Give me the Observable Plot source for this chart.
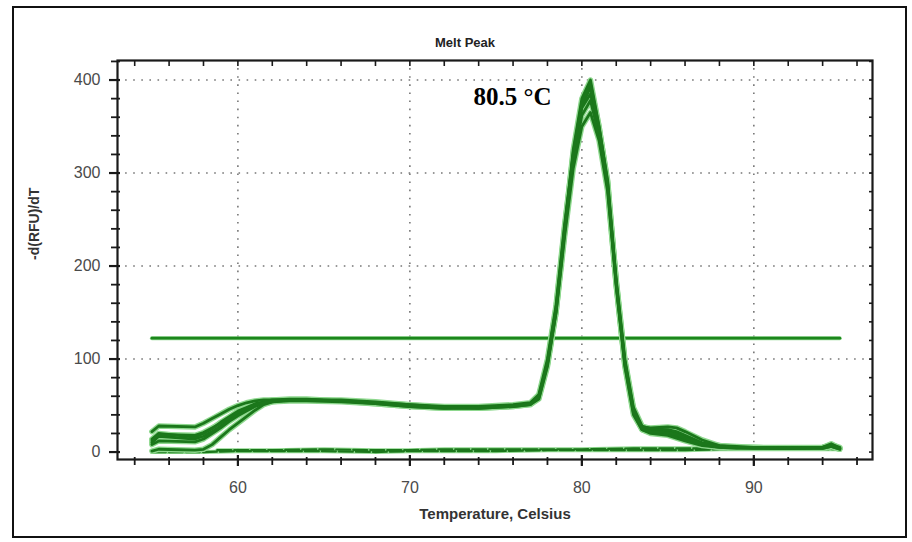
<!DOCTYPE html>
<html>
<head>
<meta charset="utf-8">
<script src="https://cdn.jsdelivr.net/npm/d3@7"></script>
<script src="https://cdn.jsdelivr.net/npm/@observablehq/plot@0.6"></script>
<style>
  html, body { margin: 0; padding: 0; background: #fff; }
  #wrap { position: relative; width: 912px; height: 542px; overflow: hidden; }
  #border { position: absolute; left: 12px; top: 6px; width: 891px; height: 528px; border: 2.5px solid #111; pointer-events: none; }
  #chart { position: absolute; left: 0; top: 0; }
</style>
</head>
<body>
<div id="wrap"><div id="chart"></div><div id="border"></div></div>
<script>
// ---- data ----
const temps = [55, 55.4, 57.5, 58, 58.5, 59, 59.5, 60, 60.5, 61, 61.5, 62, 63, 64, 66, 68, 70, 72, 74, 76, 77, 77.5, 78, 78.5, 79, 79.5, 80, 80.5, 81, 81.5, 82, 82.5, 83, 83.5, 84, 85, 85.5, 86, 87, 88, 89, 90, 92, 94, 94.5, 95];

const rep1 = [10, 17, 14, 17, 22, 28, 35, 41, 46, 50, 53, 55, 56, 56, 55, 53, 50, 48, 48, 50, 52, 60, 95, 150, 240, 325, 380, 400, 350, 290, 180, 95, 45, 26, 23, 22, 20, 16, 9, 6, 5, 5, 4, 5, 7, 4];
const rep2 = [14, 20, 16, 20, 25, 32, 38, 44, 48, 52, 54, 56, 57, 57, 55, 53, 51, 49, 49, 51, 53, 62, 100, 158, 245, 320, 370, 385, 345, 285, 185, 100, 48, 28, 25, 24, 22, 18, 10, 7, 6, 5, 5, 5, 8, 5];
const rep3 = [8, 12, 11, 14, 20, 26, 33, 39, 44, 49, 52, 54, 55, 55, 54, 52, 49, 47, 47, 49, 51, 57, 92, 150, 232, 305, 350, 365, 335, 280, 180, 92, 40, 24, 21, 19, 17, 13, 8, 5, 5, 4, 4, 4, 6, 3];
const rep4 = [22, 28, 27, 31, 36, 41, 46, 50, 53, 55, 56, 56, 56, 56, 55, 53, 50, 48, 48, 50, 52, 60, 97, 155, 242, 318, 372, 392, 348, 292, 183, 98, 46, 27, 26, 27, 26, 22, 13, 7, 5, 5, 4, 5, 9, 4];
const rep5 = [1, 3, 2, 3, 8, 16, 24, 31, 38, 45, 51, 54, 56, 56, 55, 52, 49, 47, 48, 50, 52, 58, 94, 152, 236, 312, 362, 378, 340, 284, 178, 94, 42, 24, 20, 18, 15, 12, 7, 5, 4, 4, 4, 4, 6, 3];
const rep6 = [12, 19, 18, 21, 26, 31, 37, 43, 47, 51, 53, 55, 56, 56, 56, 54, 51, 48, 47, 49, 51, 59, 96, 155, 238, 322, 376, 396, 350, 288, 182, 97, 44, 25, 22, 21, 19, 15, 9, 6, 5, 5, 4, 5, 7, 4];

const ntcTemps = [55, 58, 60, 62, 65, 68, 70, 72, 75, 78, 80, 83, 86, 88, 90, 93, 95];
const ntc1 = [0, 0, 1, 1, 1, 0, 1, 1, 1, 2, 2, 2, 2, 3, 3, 3, 3];
const ntc2Temps = [58.8, 60, 62, 65, 68, 70, 72, 75, 78, 80, 83, 86, 88, 90, 93, 95];
const ntc2 = [2, 2, 2, 3, 2, 2, 3, 3, 3, 3, 4, 4, 4, 4, 4, 4];

const threshold = 122.5;
const thresholdRange = [55, 95];

const peaks = [{t: 80.5, v: 400, label: "80.5 °C"}];

const xMajor = [60, 70, 80, 90];
const xMinor = [54, 56, 58, 60, 62, 64, 66, 68, 70, 72, 74, 76, 78, 80, 82, 84, 86, 88, 90, 92, 94, 96];
const yMajor = [0, 100, 200, 300, 400];
const yMinor = [0, 20, 40, 60, 80, 100, 120, 140, 160, 180, 200, 220, 240, 260, 280, 300, 320, 340, 360, 380, 400, 420];

const title = "Melt Peak";
const xLabel = "Temperature, Celsius";
const yLabel = "-d(RFU)/dT";

// ---- build table ----
const reps = {rep1, rep2, rep3, rep4, rep5, rep6};
const curves = Object.entries(reps).flatMap(([k, vals]) => vals.map((v, i) => ({s: k, t: temps[i], v})));
const ntc = [
  ...ntc1.map((v, i) => ({s: "ntc1", t: ntcTemps[i], v})),
  ...ntc2.map((v, i) => ({s: "ntc2", t: ntc2Temps[i], v}))
];
const thr = thresholdRange.map(t => ({t, v: threshold}));

const dark = "#1b771b";
const light = "#8fd88f";
const axisColor = "#1a1a1a";
const labelColor = "#4a4a4a";

const chart = Plot.plot({
  width: 912,
  height: 542,
  marginLeft: 117,
  marginRight: 40,
  marginTop: 60,
  marginBottom: 83,
  style: {fontFamily: "'Liberation Sans', Arial, sans-serif", background: "transparent"},
  x: {domain: [53, 96.9]},
  y: {domain: [-8, 421]},
  marks: [
    Plot.gridX({ticks: xMajor, stroke: "#777", strokeOpacity: 1, strokeWidth: 1.6, strokeDasharray: "1.6,6.5"}),
    Plot.gridY({ticks: yMajor.filter(d => d > 0), stroke: "#777", strokeOpacity: 1, strokeWidth: 1.6, strokeDasharray: "1.6,6.5"}),
    // NTC flat lines
    Plot.line(ntc, {x: "t", y: "v", z: "s", stroke: light, strokeWidth: 4}),
    Plot.line(ntc, {x: "t", y: "v", z: "s", stroke: dark, strokeWidth: 2.2, strokeDasharray: "14,3"}),
    // threshold
    Plot.line(thr, {x: "t", y: "v", stroke: light, strokeWidth: 4}),
    Plot.line(thr, {x: "t", y: "v", stroke: "#1c861c", strokeWidth: 2.6}),
    // melt curves
    Plot.line(curves, {x: "t", y: "v", z: "s", stroke: light, strokeWidth: 5.5}),
    Plot.line(curves, {x: "t", y: "v", z: "s", stroke: dark, strokeWidth: 2.8}),
    // frame
    Plot.frame({stroke: axisColor, strokeWidth: 2.2}),
    // axes ticks
    Plot.axisY({ticks: yMajor, tickSize: 11, dx: 3, text: null, stroke: axisColor, strokeWidth: 2.2, label: null}),
    Plot.axisY({ticks: yMinor, tickSize: 9, dx: 3, text: null, stroke: axisColor, strokeWidth: 1.8, label: null}),
    Plot.axisY({anchor: "right", ticks: yMinor, tickSize: 4, dx: -4, text: null, stroke: axisColor, strokeWidth: 1.6, label: null}),
    Plot.axisX({ticks: xMajor, tickSize: 11, dy: -4, text: null, stroke: axisColor, strokeWidth: 2.2, label: null}),
    Plot.axisX({ticks: xMinor, tickSize: 8, dy: -2, text: null, stroke: axisColor, strokeWidth: 1.8, label: null}),
    Plot.axisX({anchor: "top", ticks: xMinor, tickSize: 5, dy: 5, text: null, stroke: axisColor, strokeWidth: 1.6, label: null}),
    // tick labels
    Plot.axisY({ticks: yMajor, tickSize: 0, tickPadding: 17, fontSize: 16, fill: labelColor, label: null}),
    Plot.axisX({ticks: xMajor, tickSize: 0, tickPadding: 22, fontSize: 16, fill: labelColor, label: null}),
    // titles
    Plot.text([title], {text: d => d, frameAnchor: "top", dx: -30, dy: -23, fontSize: 13, fontWeight: "bold", fill: "#222"}),
    Plot.text([xLabel], {text: d => d, frameAnchor: "bottom", dy: 59, fontSize: 15, fontWeight: "bold", fill: "#333"}),
    Plot.text([yLabel], {text: d => d, frameAnchor: "left", dx: -83, rotate: -90, fontSize: 14, fontWeight: "bold", fill: "#333"}),
    // annotation
    Plot.text(peaks, {x: "t", y: "v", text: "label", dx: -78, dy: 17, fontFamily: "'Liberation Serif', 'Times New Roman', serif", fontWeight: "bold", fontSize: 25, fill: "#000"})
  ]
});
document.getElementById("chart").appendChild(chart);
</script>
</body>
</html>
